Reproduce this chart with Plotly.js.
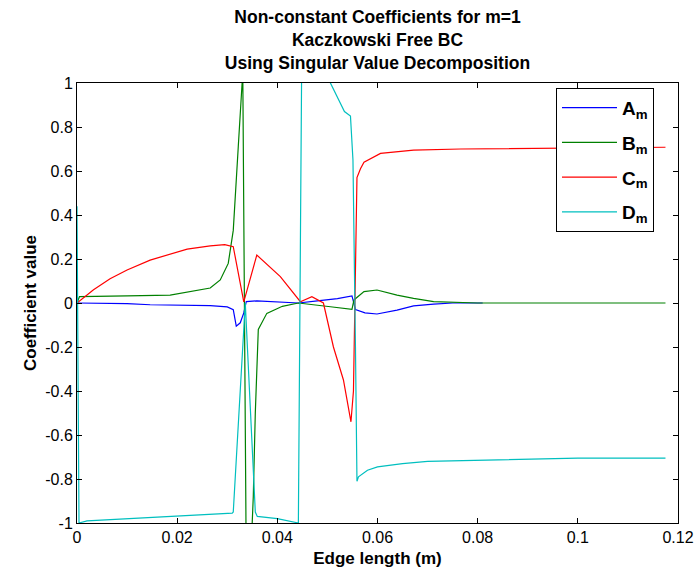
<!DOCTYPE html>
<html>
<head>
<meta charset="utf-8">
<script src="https://cdn.plot.ly/plotly-3.0.1.min.js"></script>
<style>html,body{margin:0;padding:0;background:#fff;}#chart{width:694px;height:576px;}</style>
</head>
<body>
<div id="chart"></div>
<script>
// A_m (blue)
const xA = [0, 0.01, 0.0146, 0.02, 0.0266, 0.030, 0.0312, 0.0318, 0.0326, 0.0333, 0.0338, 0.0359, 0.040, 0.0442, 0.048, 0.052, 0.0549, 0.0556, 0.0575, 0.0599, 0.0639, 0.0672, 0.0712, 0.075, 0.081];
const yA = [0, -0.003, -0.008, -0.009, -0.012, -0.018, -0.03, -0.105, -0.09, -0.045, 0.006, 0.01, 0.005, 0, 0.01, 0.02, 0.032, -0.03, -0.045, -0.05, -0.032, -0.013, -0.005, 0, 0];
// B_m (green)
const xB = [0, 0.0005, 0.01, 0.0186, 0.0266, 0.0286, 0.0302, 0.0312, 0.0322, 0.0329, 0.0331, 0.0338, 0.0348, 0.0352, 0.0356, 0.0362, 0.0379, 0.041, 0.0442, 0.0506, 0.0549, 0.0553, 0.0573, 0.0599, 0.0639, 0.0672, 0.0712, 0.08, 0.1175];
const yB = [0, 0.029, 0.032, 0.036, 0.068, 0.105, 0.18, 0.33, 0.71, 0.97, 1.05, -1.2, -1.1, -0.88, -0.5, -0.12, -0.047, -0.015, 0, -0.017, -0.029, 0.014, 0.052, 0.059, 0.036, 0.021, 0.006, 0, 0];
// C_m (red)
const xC = [0, 0.0033, 0.0066, 0.01, 0.0146, 0.022, 0.0266, 0.0295, 0.0312, 0.0333, 0.0359, 0.0406, 0.0446, 0.0469, 0.0492, 0.0512, 0.0532, 0.0547, 0.0552, 0.0557, 0.0559, 0.0566, 0.0573, 0.0606, 0.0672, 0.0766, 0.0946, 0.1175];
const yC = [0, 0.06, 0.11, 0.15, 0.195, 0.245, 0.26, 0.265, 0.256, 0.005, 0.218, 0.12, 0.006, 0.029, 0.0, -0.2, -0.35, -0.54, -0.4, 0.17, 0.57, 0.61, 0.64, 0.68, 0.695, 0.70, 0.705, 0.708];
// D_m (cyan)
const xD = [0, 0.0004, 0.002, 0.01, 0.02, 0.028, 0.031, 0.0312, 0.0336, 0.0356, 0.036, 0.040, 0.0442, 0.0449, 0.047, 0.0506, 0.0534, 0.0546, 0.0551, 0.0556, 0.0559, 0.0562, 0.058, 0.06, 0.065, 0.07, 0.08, 0.09, 0.1, 0.1175];
const yD = [0.44, -1, -0.99, -0.98, -0.97, -0.96, -0.955, -0.95, 0.0, -0.95, -0.97, -0.98, -1, 1.2, 1.3, 1.0, 0.87, 0.85, 0.65, -0.2, -0.81, -0.79, -0.76, -0.745, -0.73, -0.72, -0.715, -0.71, -0.705, -0.705];

const seriesNames = ['<b>A</b><sub><b>m</b></sub>', '<b>B</b><sub><b>m</b></sub>', '<b>C</b><sub><b>m</b></sub>', '<b>D</b><sub><b>m</b></sub>'];
const seriesColors = ['#0000ff', '#008000', '#ff0000', '#00bfbf'];

const yTickVals = [-1, -0.8, -0.6, -0.4, -0.2, 0, 0.2, 0.4, 0.6, 0.8, 1];
const yTickText = ['-1', '-0.8', '-0.6', '-0.4', '-0.2', '0', '0.2', '0.4', '0.6', '0.8', '1'];
const xTickVals = [0, 0.02, 0.04, 0.06, 0.08, 0.1, 0.12];
const xTickText = ['0', '0.02', '0.04', '0.06', '0.08', '0.1', '0.12'];

const xs = [xA, xB, xC, xD];
const ys = [yA, yB, yC, yD];
const traces = xs.map((x, i) => ({
  x: x, y: ys[i], type: 'scatter', mode: 'lines',
  name: seriesNames[i], legendgroup: 'g' + i,
  line: {color: seriesColors[i], width: 1.2}
}));

const font = 'Liberation Sans, Arial, sans-serif';
const layout = {
  width: 694, height: 576,
  margin: {l: 77, r: 16, t: 83, b: 53},
  paper_bgcolor: '#fff', plot_bgcolor: '#fff',
  font: {family: font, size: 16, color: '#000'},
  title: {
    text: '<b>Non-constant Coefficients for m=1<br>Kaczkowski Free BC<br>Using Singular Value Decomposition</b>',
    font: {family: font, size: 17.5, color: '#000'},
    x: 0.5, xref: 'paper', xanchor: 'center',
    y: 1, yref: 'paper', yanchor: 'bottom', pad: {b: 60}
  },
  xaxis: {
    range: [0, 0.12], tickvals: xTickVals, ticktext: xTickText,
    ticks: 'inside', ticklen: 5, tickcolor: '#000',
    showline: true, linecolor: '#000', linewidth: 1, mirror: 'ticks',
    showgrid: false, zeroline: false,
    tickfont: {family: font, size: 16, color: '#000'},
    title: {text: '<b>Edge length (m)</b>', font: {family: font, size: 17, color: '#000'}, standoff: 6}
  },
  yaxis: {
    range: [-1, 1], tickvals: yTickVals, ticktext: yTickText,
    ticks: 'inside', ticklen: 5, tickcolor: '#000',
    showline: true, linecolor: '#000', linewidth: 1, mirror: 'ticks',
    showgrid: false, zeroline: false,
    tickfont: {family: font, size: 16, color: '#000'},
    title: {text: '<b>Coefficient value</b>', font: {family: font, size: 17, color: '#000'}, standoff: 4}
  },
  showlegend: true,
  legend: {
    x: 0.797, y: 0.989, xanchor: 'left', yanchor: 'top',
    bgcolor: '#fff', bordercolor: '#000', borderwidth: 1,
    font: {family: font, size: 19, color: '#000'},
    tracegroupgap: 7, itemwidth: 55, traceorder: 'grouped'
  }
};

Plotly.newPlot('chart', traces, layout, {staticPlot: true, displayModeBar: false});
</script>
</body>
</html>
